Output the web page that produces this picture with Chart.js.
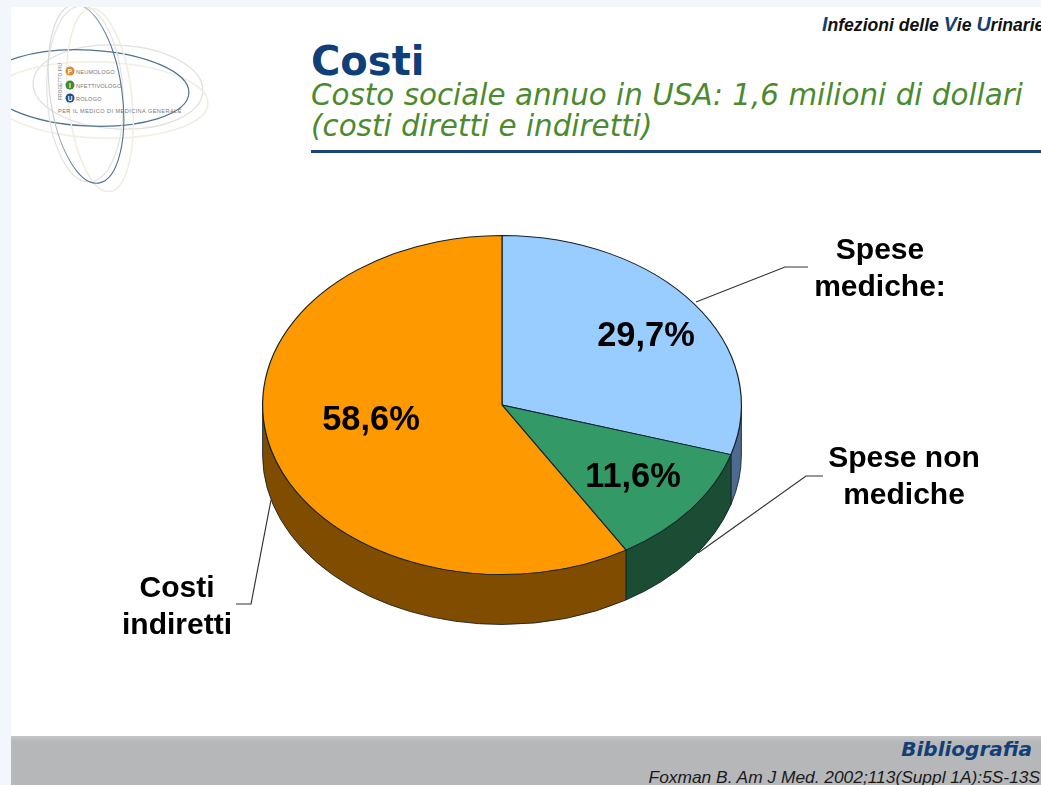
<!DOCTYPE html>
<html lang="it">
<head>
<meta charset="utf-8">
<title>Costi</title>
<script src="https://cdn.jsdelivr.net/npm/chart.js@4/dist/chart.umd.min.js"></script>
<style>
  html, body { margin: 0; padding: 0; background: #f3f7fb; }
  #slide { position: relative; width: 1041px; height: 785px; overflow: hidden; background: #f3f7fb; }
  #paper { position: absolute; left: 11px; top: 7px; width: 1030px; height: 729px; background: #fff; }
  #footer { position: absolute; left: 11px; top: 736px; width: 1030px; height: 49px; background: linear-gradient(#c4c5c7, #b6b7b9 12%); }
  #chartBox { position: absolute; left: 0; top: 0; width: 1041px; height: 785px; }
  #logo { position: absolute; left: 11px; top: 7px; }
  .t { position: absolute; white-space: nowrap; margin: 0; }
  #header { left: 822px; top: 13px; font: italic bold 17.6px "Liberation Sans", sans-serif; color: #111; }
  #header b { color: #123f75; font-size: 19.6px; }
  #title { left: 311px; top: 38px; font: bold 40px "DejaVu Sans", sans-serif; color: #0f3f78; }
  #sub1 { left: 311px; top: 78px; font: oblique 29.4px "DejaVu Sans", sans-serif; color: #4b8a2e; }
  #sub2 { left: 311px; top: 109px; font: oblique 29.4px "DejaVu Sans", sans-serif; color: #4b8a2e; }
  #rule { position: absolute; left: 311px; top: 150px; width: 730px; height: 3px; background: #1c4478; }
  #biblio { right: 9px; top: 737px; font: oblique bold 20px "DejaVu Sans", sans-serif; color: #123f75; }
  #ref { right: 1px; top: 767px; font: italic 17.35px "Liberation Sans", sans-serif; color: #1a1a1a; }
</style>
</head>
<body>
<div id="slide">
  <div id="paper"></div>
  <div id="footer"></div>

  <svg id="logo" width="210" height="190" viewBox="11 7 210 190" fill="none">
    <defs>
      <linearGradient id="ringFade" x1="0" y1="0" x2="1" y2="1">
        <stop offset="0.25" stop-color="#d3d8d8"/>
        <stop offset="0.6" stop-color="#4f7390"/>
      </linearGradient>
    </defs>
    <ellipse cx="118" cy="87" rx="85" ry="42" stroke="#dfe2de" stroke-width="1.3" transform="rotate(3 118 87)"/>
    <ellipse cx="100" cy="100" rx="108" ry="38" stroke="#f2eee2" stroke-width="1.6" transform="rotate(2 100 100)"/>
    <ellipse cx="88" cy="88" rx="101" ry="38" stroke="#4f7390" stroke-width="1.2" transform="rotate(3 88 88)"/>
    <ellipse cx="85" cy="94" rx="38" ry="88" stroke="#e2e4e1" stroke-width="1.2" transform="rotate(-3 85 94)"/>
    <ellipse cx="100" cy="100" rx="32" ry="92" stroke="#f2ecdf" stroke-width="1.5" transform="rotate(-6 100 100)"/>
    <ellipse cx="86" cy="94" rx="36" ry="90" stroke="url(#ringFade)" stroke-width="1.1" transform="rotate(-8 86 94)"/>
    <circle cx="70" cy="71" r="4.5" fill="#e08a2e"/>
    <circle cx="70" cy="85" r="4.5" fill="#3f8a35"/>
    <circle cx="70" cy="98" r="4.5" fill="#1f4f80"/>
    <g font-family="'Liberation Sans', sans-serif" font-weight="bold" font-size="6.5" fill="#fff" text-anchor="middle">
      <text x="70" y="73.5">P</text>
      <text x="70" y="87.5">I</text>
      <text x="70" y="100.5">U</text>
    </g>
    <g font-family="'Liberation Sans', sans-serif" fill="#777">
      <text x="76" y="74" font-size="5.6" letter-spacing="0.2">NEUMOLOGO</text>
      <text x="76" y="88" font-size="5.6" letter-spacing="0.15">NFETTIVOLOGO</text>
      <text x="76" y="101" font-size="5.6" letter-spacing="0.2">ROLOGO</text>
      <text x="58" y="113" font-size="5.6" letter-spacing="0.43">PER IL MEDICO DI MEDICINA GENERALE</text>
      <text x="0" y="0" font-size="4.6" letter-spacing="0.2" transform="translate(62 100) rotate(-90)">PROGETTO PIU</text>
    </g>
  </svg>

  <p class="t" id="header"><b>I</b>nfezioni delle <b>V</b>ie <b>U</b>rinarie</p>
  <p class="t" id="title">Costi</p>
  <p class="t" id="sub1">Costo sociale annuo in USA: 1,6 milioni di dollari</p>
  <p class="t" id="sub2">(costi diretti e indiretti)</p>
  <div id="rule"></div>
  <p class="t" id="biblio">Bibliografia</p>
  <p class="t" id="ref">Foxman B. Am J Med. 2002;113(Suppl 1A):5S-13S</p>

  <div id="chartBox"><canvas id="pieChart"></canvas></div>
</div>

<script>
// values
const categories = ['Spese mediche', 'Spese non mediche', 'Costi indiretti'];
const values = [29.7, 11.6, 58.6];
const topColors = ['#99ccff', '#339966', '#ff9900'];
const wallColors = ['#4d6a8f', '#1b4d35', '#804d00'];

// text labels next to the pie, one entry per category
const categoryLines = [['Spese', 'mediche:'], ['Spese non', 'mediche'], ['Costi', 'indiretti']];
const categoryAnchors = [[880, 261], [904, 469], [177, 599]];
const valueAnchors = [[646, 337], [633, 478], [371, 421]];
const leaderLines = [
      [[696, 302], [785, 267], [808, 267]],
      [[698, 553], [806, 476], [823, 476]],
      [[271, 500], [251, 604], [236, 604]]
];

const squash = 0.708;   // the pie is seen from above, so it is an ellipse
const depth = 50;       // height of the side wall in pixels

function formatValue(v) {
      return v.toFixed(1).replace('.', ',') + '%';
}

const pie3d = {
      id: 'pie3d',
      beforeDatasetsDraw(chart) {
            const ctx = chart.ctx;
            const arcs = chart.getDatasetMeta(0).data;
            const cy = arcs[0].y;

            ctx.save();
            ctx.translate(0, cy);
            ctx.scale(1, squash);
            ctx.translate(0, -cy);

            // side walls, only the front half of the rim can be seen
            const drop = depth / squash;
            arcs.forEach((arc, i) => {
                  const start = Math.max(arc.startAngle, 0);
                  const end = Math.min(arc.endAngle, Math.PI);
                  if (end <= start) return;
                  ctx.beginPath();
                  ctx.arc(arc.x, arc.y, arc.outerRadius, start, end);
                  ctx.arc(arc.x, arc.y + drop, arc.outerRadius, end, start, true);
                  ctx.closePath();
                  ctx.fillStyle = wallColors[i];
                  ctx.fill();
                  ctx.lineWidth = 1;
                  ctx.strokeStyle = '#10202a';
                  ctx.stroke();
            });
      },
      afterDatasetsDraw(chart) {
            const ctx = chart.ctx;
            ctx.restore();

            ctx.save();
            ctx.strokeStyle = '#333';
            ctx.lineWidth = 1.2;
            leaderLines.forEach(points => {
                  ctx.beginPath();
                  points.forEach((p, i) => i ? ctx.lineTo(p[0], p[1]) : ctx.moveTo(p[0], p[1]));
                  ctx.stroke();
            });

            ctx.fillStyle = '#000';
            ctx.textAlign = 'center';
            ctx.textBaseline = 'middle';
            ctx.font = 'bold 34.4px "Liberation Sans", sans-serif';
            values.forEach((v, i) => {
                  ctx.fillText(formatValue(v), valueAnchors[i][0], valueAnchors[i][1]);
            });

            ctx.font = 'bold 30px "Liberation Sans", sans-serif';
            categoryLines.forEach((lines, i) => {
                  lines.forEach((line, j) => {
                        ctx.fillText(line, categoryAnchors[i][0], categoryAnchors[i][1] + j * 37 - 10);
                  });
            });
            ctx.restore();
      }
};

new Chart(document.getElementById('pieChart'), {
      type: 'pie',
      data: {
            labels: categories,
            datasets: [{
                  data: values,
                  backgroundColor: topColors,
                  borderColor: '#14222c',
                  borderWidth: 1.2,
                  clip: false
            }]
      },
      options: {
            responsive: true,
            maintainAspectRatio: false,
            animation: false,
            events: [],
            layout: { padding: { left: 262, right: 299, top: 165, bottom: 140 } },
            plugins: {
                  legend: { display: false },
                  tooltip: { enabled: false }
            }
      },
      plugins: [pie3d]
});
</script>
</body>
</html>
